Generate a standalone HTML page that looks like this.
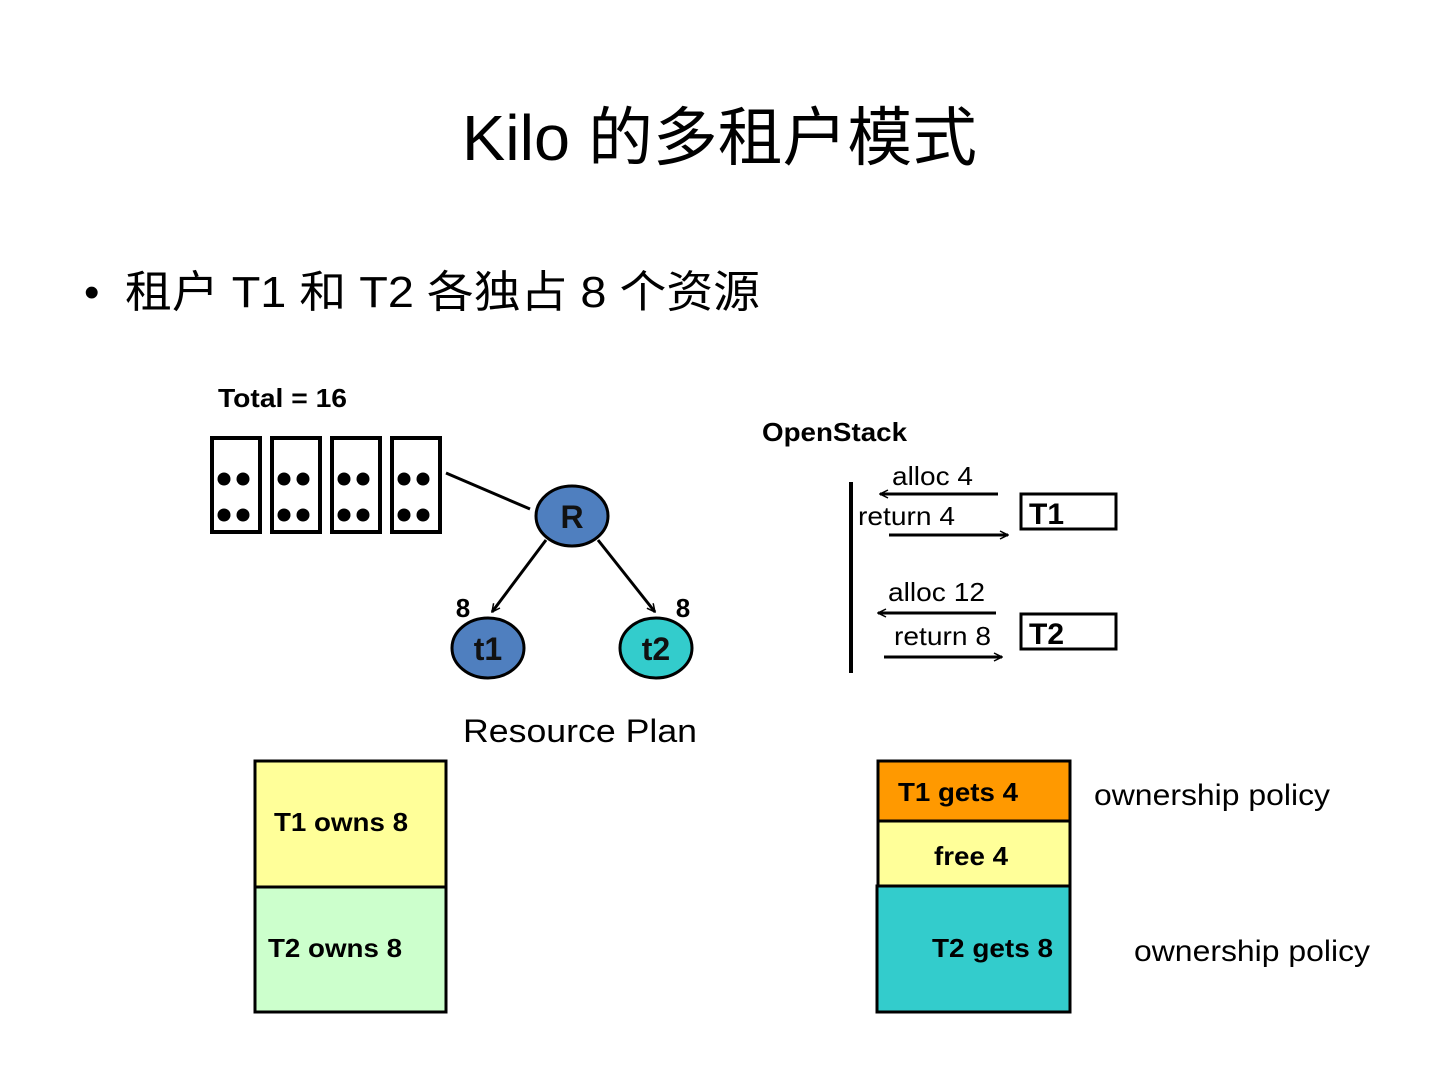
<!DOCTYPE html>
<html><head><meta charset="utf-8"><style>
body{margin:0;width:1440px;height:1080px;background:#fff;overflow:hidden}
svg text{font-family:"Liberation Sans","Noto Sans CJK SC",sans-serif}
</style></head><body>
<svg width="1440" height="1080" xmlns="http://www.w3.org/2000/svg">
<defs><marker id="a" markerWidth="10" markerHeight="10" refX="9" refY="5" orient="auto" markerUnits="userSpaceOnUse"><path d="M1,1 L9,5 L1,9" fill="none" stroke="#000" stroke-width="1.5"/></marker></defs>
<text x="462" y="160" font-size="64" textLength="515" lengthAdjust="spacingAndGlyphs">Kilo 的多租户模式</text>
<text x="84" y="307" font-size="44">•</text>
<text x="125" y="307" font-size="44" textLength="635" lengthAdjust="spacingAndGlyphs">租户 T1 和 T2 各独占 8 个资源</text>
<text x="218" y="407" font-size="26" font-weight="bold" textLength="129" lengthAdjust="spacingAndGlyphs">Total = 16</text>
<g stroke="#000" stroke-width="4" fill="none">
<rect x="212" y="438" width="48" height="94"/><rect x="272" y="438" width="48" height="94"/><rect x="332" y="438" width="48" height="94"/><rect x="392" y="438" width="48" height="94"/>
</g>
<g fill="#000">
<circle cx="224" cy="479" r="6.5"/><circle cx="243" cy="479" r="6.5"/><circle cx="224" cy="515" r="6.5"/><circle cx="243" cy="515" r="6.5"/>
<circle cx="284" cy="479" r="6.5"/><circle cx="303" cy="479" r="6.5"/><circle cx="284" cy="515" r="6.5"/><circle cx="303" cy="515" r="6.5"/>
<circle cx="344" cy="479" r="6.5"/><circle cx="363" cy="479" r="6.5"/><circle cx="344" cy="515" r="6.5"/><circle cx="363" cy="515" r="6.5"/>
<circle cx="404" cy="479" r="6.5"/><circle cx="423" cy="479" r="6.5"/><circle cx="404" cy="515" r="6.5"/><circle cx="423" cy="515" r="6.5"/>
</g>
<line x1="446" y1="473" x2="530" y2="509" stroke="#000" stroke-width="3"/>
<line x1="546" y1="540" x2="492" y2="612" stroke="#000" stroke-width="3" marker-end="url(#a)"/>
<line x1="598" y1="540" x2="655" y2="612" stroke="#000" stroke-width="3" marker-end="url(#a)"/>
<ellipse cx="572" cy="516" rx="36" ry="30" fill="#4f7fbf" stroke="#000" stroke-width="3"/>
<ellipse cx="488" cy="648" rx="36" ry="30" fill="#4f7fbf" stroke="#000" stroke-width="3"/>
<ellipse cx="656" cy="648" rx="36" ry="30" fill="#33cccc" stroke="#000" stroke-width="3"/>
<g font-weight="bold" font-size="32" text-anchor="middle" fill="#111">
<text x="572" y="528">R</text><text x="488" y="660">t1</text><text x="656" y="660">t2</text></g>
<text x="463" y="617" font-size="26" font-weight="bold" text-anchor="middle">8</text>
<text x="683" y="617" font-size="26" font-weight="bold" text-anchor="middle">8</text>
<text x="463" y="742" font-size="32" textLength="234" lengthAdjust="spacingAndGlyphs">Resource Plan</text>
<text x="762" y="441" font-size="26" font-weight="bold" textLength="145" lengthAdjust="spacingAndGlyphs">OpenStack</text>
<line x1="851" y1="482" x2="851" y2="673" stroke="#000" stroke-width="4"/>
<g stroke="#000" stroke-width="3" marker-end="url(#a)">
<line x1="998" y1="494" x2="880" y2="494"/><line x1="889" y1="535" x2="1008" y2="535"/>
<line x1="996" y1="613" x2="878" y2="613"/><line x1="884" y1="657" x2="1002" y2="657"/></g>
<g font-size="26"><text x="892" y="485" textLength="81" lengthAdjust="spacingAndGlyphs">alloc 4</text><text x="858" y="525" textLength="97" lengthAdjust="spacingAndGlyphs">return 4</text>
<text x="888" y="601" textLength="97" lengthAdjust="spacingAndGlyphs">alloc 12</text><text x="894" y="645" textLength="97" lengthAdjust="spacingAndGlyphs">return 8</text></g>
<rect x="1021" y="494" width="95" height="35" fill="none" stroke="#000" stroke-width="3"/>
<rect x="1021" y="614" width="95" height="35" fill="none" stroke="#000" stroke-width="3"/>
<text x="1029" y="524" font-size="30" font-weight="bold">T1</text>
<text x="1029" y="644" font-size="30" font-weight="bold">T2</text>
<rect x="255" y="761" width="191" height="126" fill="#ffff99" stroke="#000" stroke-width="3"/>
<rect x="255" y="887" width="191" height="125" fill="#ccffcc" stroke="#000" stroke-width="3"/>
<text x="274" y="831" font-size="26" font-weight="bold" textLength="134" lengthAdjust="spacingAndGlyphs">T1 owns 8</text>
<text x="268" y="957" font-size="26" font-weight="bold" textLength="134" lengthAdjust="spacingAndGlyphs">T2 owns 8</text>
<rect x="878" y="761" width="192" height="60" fill="#ff9900" stroke="#000" stroke-width="3"/>
<rect x="878" y="821" width="192" height="65" fill="#ffff99" stroke="#000" stroke-width="3"/>
<rect x="877" y="886" width="193" height="126" fill="#33cccc" stroke="#000" stroke-width="3"/>
<text x="898" y="801" font-size="26" font-weight="bold" textLength="120" lengthAdjust="spacingAndGlyphs">T1 gets 4</text>
<text x="934" y="865" font-size="26" font-weight="bold" textLength="74" lengthAdjust="spacingAndGlyphs">free 4</text>
<text x="932" y="957" font-size="26" font-weight="bold" textLength="121" lengthAdjust="spacingAndGlyphs">T2 gets 8</text>
<text x="1094" y="805" font-size="30" textLength="236" lengthAdjust="spacingAndGlyphs">ownership policy</text>
<text x="1134" y="961" font-size="30" textLength="236" lengthAdjust="spacingAndGlyphs">ownership policy</text>
</svg>
</body></html>
